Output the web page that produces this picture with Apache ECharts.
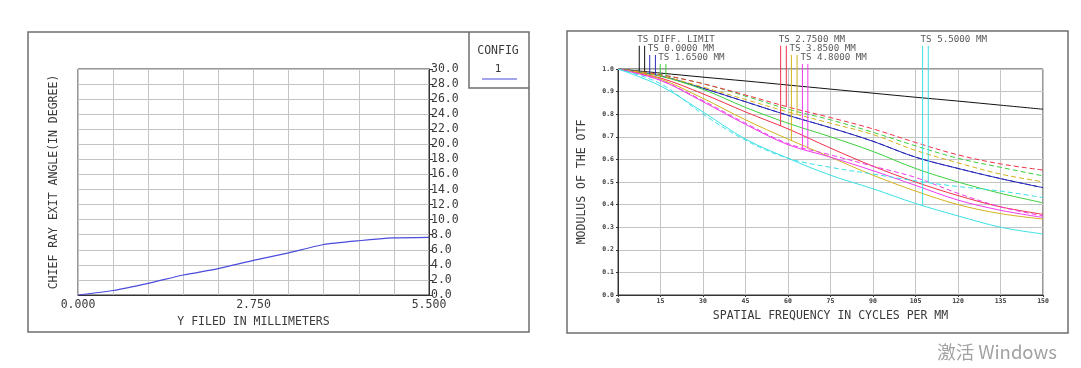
<!DOCTYPE html>
<html><head><meta charset="utf-8">
<script src="https://cdn.jsdelivr.net/npm/echarts@6/dist/echarts.min.js"></script>
<style>html,body{margin:0;padding:0;background:#fff}#c{width:1081px;height:368px}</style>
</head><body><div id="c"></div>
<script>
// ---- Left chart: chief ray exit angle ----
const fieldY = [0, 0.55, 1.1, 1.65, 2.2, 2.75, 3.3, 3.85, 4.4, 4.95, 5.5];
const exitAngle = [0, 0.6, 1.55, 2.65, 3.5, 4.6, 5.6, 6.7, 7.2, 7.57, 7.65];
const configName = '1';

// ---- Right chart: MTF ----
const freq = [0, 15, 30, 45, 60, 75, 90, 105, 120, 135, 150];
const mtfDiff    = [1.0, 0.982, 0.964, 0.947, 0.929, 0.911, 0.893, 0.875, 0.858, 0.840, 0.822];
const mtfF1T     = [1.0, 0.970, 0.915, 0.855, 0.795, 0.740, 0.680, 0.610, 0.560, 0.515, 0.475];
const mtfF1S     = [1.0, 0.970, 0.915, 0.855, 0.795, 0.740, 0.680, 0.610, 0.560, 0.515, 0.475];
const mtfF2T     = [1.0, 0.968, 0.910, 0.830, 0.760, 0.700, 0.635, 0.560, 0.500, 0.450, 0.408];
const mtfF2S     = [1.0, 0.975, 0.935, 0.880, 0.822, 0.775, 0.720, 0.660, 0.605, 0.565, 0.527];
const mtfF3T     = [1.0, 0.960, 0.890, 0.810, 0.735, 0.650, 0.570, 0.500, 0.440, 0.390, 0.357];
const mtfF3S     = [1.0, 0.975, 0.935, 0.885, 0.832, 0.785, 0.735, 0.675, 0.620, 0.580, 0.553];
const mtfF4T     = [1.0, 0.955, 0.870, 0.775, 0.690, 0.610, 0.530, 0.460, 0.400, 0.360, 0.336];
const mtfF4S     = [1.0, 0.970, 0.920, 0.865, 0.810, 0.760, 0.710, 0.640, 0.585, 0.535, 0.501];
const mtfF5T     = [1.0, 0.950, 0.855, 0.755, 0.665, 0.610, 0.550, 0.485, 0.420, 0.375, 0.343];
const mtfF5S     = [1.0, 0.950, 0.860, 0.760, 0.670, 0.620, 0.570, 0.520, 0.450, 0.390, 0.350];
const mtfF6T     = [1.0, 0.925, 0.810, 0.690, 0.605, 0.530, 0.470, 0.405, 0.350, 0.300, 0.270];
const mtfF6S     = [1.0, 0.935, 0.800, 0.685, 0.605, 0.565, 0.535, 0.505, 0.480, 0.460, 0.431];

const fieldLabels = ['TS DIFF. LIMIT', 'TS 0.0000 MM', 'TS 1.6500 MM', 'TS 2.7500 MM', 'TS 3.8500 MM', 'TS 4.8000 MM', 'TS 5.5000 MM'];
const leaderFreqT = [7.5, 11.2, 14.9, 57.4, 61.2, 65.1, 107.5];
const leaderFreqS = [9.4, 13.2, 16.9, 59.4, 63.2, 67.0, 109.5];
const leaderRow   = [0, 1, 2, 0, 1, 2, 0];

const curvesT = [mtfDiff, mtfF1T, mtfF2T, mtfF3T, mtfF4T, mtfF5T, mtfF6T];
const curvesS = [mtfDiff, mtfF1S, mtfF2S, mtfF3S, mtfF4S, mtfF5S, mtfF6S];
const colors = ['#111111', '#2a2ab8', '#3ccf3c', '#f0304a', '#d4b21c', '#ee3cee', '#3ce0e6'];
const rowTop = [1.103, 1.062, 1.022];

function interp(xs, ys, x) {
  for (let i = 1; i < xs.length; i++) {
    if (x <= xs[i]) { const t = (x - xs[i-1]) / (xs[i] - xs[i-1]); return ys[i-1] + t * (ys[i] - ys[i-1]); }
  }
  return ys[ys.length - 1];
}
const zip = (xs, ys) => xs.map((x, i) => [x, ys[i]]);

const FONT = 'DejaVu Sans Mono';
const TXT = '#3a3a3a';
const GRIDC = '#c4c4c4';

const series = [];
series.push({
  type: 'line', xAxisIndex: 0, yAxisIndex: 0, data: zip(fieldY, exitAngle),
  symbol: 'none', smooth: 0.2, lineStyle: { color: '#4b4bdc', width: 1.2 }, silent: true, z: 5
});

for (let i = 0; i < 7; i++) {
  series.push({
    type: 'line', xAxisIndex: 1, yAxisIndex: 2, data: zip(freq, curvesT[i]), symbol: 'none',
    smooth: 0.35, silent: true, lineStyle: { color: colors[i], width: 1 }, z: i === 0 ? 3 : 4
  });
  if (i > 0) {
    series.push({
      type: 'line', xAxisIndex: 1, yAxisIndex: 2, data: zip(freq, curvesS[i]), symbol: 'none',
      smooth: 0.35, silent: true, lineStyle: { color: colors[i], width: 1, type: [5, 3] }, z: 4
    });
  }
}
for (let i = 0; i < 7; i++) {
  const top = rowTop[leaderRow[i]];
  const fT = leaderFreqT[i], fS = leaderFreqS[i];
  series.push({
    type: 'line', xAxisIndex: 1, yAxisIndex: 2, clip: false, symbol: 'none', silent: true,
    data: [[fT, top], [fT, interp(freq, curvesT[i], fT)]], lineStyle: { color: colors[i], width: 1 }, z: 6
  });
  series.push({
    type: 'line', xAxisIndex: 1, yAxisIndex: 2, clip: false, symbol: 'none', silent: true,
    data: [[fS, top], [fS, interp(freq, curvesS[i], fS)]], lineStyle: { color: colors[i], width: 1 }, z: 6
  });
  series.push({
    type: 'scatter', xAxisIndex: 1, yAxisIndex: 2, clip: false, symbolSize: 0, silent: true,
    data: [[fT, top]],
    label: { show: true, formatter: fieldLabels[i], position: 'top', distance: 2, align: 'left', offset: [-2, 0],
      fontFamily: FONT, fontSize: 9.2, color: '#2e2e2e' }
  });
}

const chart = echarts.init(document.getElementById('c'), null, { renderer: 'canvas' });
chart.setOption({
  animation: false,
  backgroundColor: '#ffffff',
  grid: [
    { left: 78, top: 69, width: 351, height: 226, show: true, borderColor: '#333', borderWidth: 1, backgroundColor: 'transparent' },
    { left: 618, top: 69, width: 425, height: 226, show: true, borderColor: '#333', borderWidth: 1, backgroundColor: 'transparent' }
  ],
  xAxis: [
    { type: 'value', gridIndex: 0, min: 0, max: 5.5, interval: 0.55,
      axisLine: { show: true, onZero: false, lineStyle: { color: '#333' } }, axisTick: { show: false },
      axisLabel: { margin: 4, fontFamily: FONT, fontSize: 11.5, color: TXT, showMaxLabel: true, showMinLabel: true,
        formatter: (v, i) => (i % 5 === 0 ? v.toFixed(3) : '') },
      splitLine: { show: true, lineStyle: { color: GRIDC, width: 1 } },
      name: 'Y FILED IN MILLIMETERS', nameLocation: 'middle', nameGap: 18,
      nameTextStyle: { fontFamily: FONT, fontSize: 11.5, color: TXT } },
    { type: 'value', gridIndex: 1, min: 0, max: 150, interval: 15,
      axisLine: { show: true, onZero: false, lineStyle: { color: '#333' } },
      axisTick: { show: true, length: 2, lineStyle: { color: '#333' } },
      axisLabel: { margin: 3, fontFamily: FONT, fontSize: 6.5, fontWeight: 'bold', color: TXT },
      splitLine: { show: true, lineStyle: { color: GRIDC, width: 1 } },
      name: 'SPATIAL FREQUENCY IN CYCLES PER MM', nameLocation: 'middle', nameGap: 13,
      nameTextStyle: { fontFamily: FONT, fontSize: 11.5, color: TXT } }
  ],
  yAxis: [
    { type: 'value', gridIndex: 0, position: 'right', min: 0, max: 30, interval: 2,
      axisLine: { show: true, onZero: false, lineStyle: { color: '#333' } },
      axisTick: { show: true, length: 4, lineStyle: { color: '#333' } },
      axisLabel: { margin: 2, fontFamily: FONT, fontSize: 11.5, color: TXT, formatter: v => v.toFixed(1) },
      splitLine: { show: true, lineStyle: { color: GRIDC, width: 1 } } },
    { type: 'value', gridIndex: 0, position: 'left', min: 0, max: 30, interval: 2,
      axisLine: { show: false }, axisTick: { show: false }, axisLabel: { show: false }, splitLine: { show: false },
      name: 'CHIEF RAY EXIT ANGLE(IN DEGREE)', nameLocation: 'middle', nameGap: 18, nameRotate: 90,
      nameTextStyle: { fontFamily: FONT, fontSize: 11.5, color: TXT } },
    { type: 'value', gridIndex: 1, min: 0, max: 1, interval: 0.1,
      axisLine: { show: true, onZero: false, lineStyle: { color: '#333' } },
      axisTick: { show: true, length: 2, lineStyle: { color: '#333' } },
      axisLabel: { margin: 4, fontFamily: FONT, fontSize: 6.5, fontWeight: 'bold', color: TXT, formatter: v => v.toFixed(1) },
      splitLine: { show: true, lineStyle: { color: GRIDC, width: 1 } },
      name: 'MODULUS OF THE OTF', nameLocation: 'middle', nameGap: 30, nameRotate: 90,
      nameTextStyle: { fontFamily: FONT, fontSize: 11.5, color: TXT } }
  ],
  graphic: [
    { type: 'rect', shape: { x: 28, y: 32, width: 501, height: 300 }, style: { fill: 'none', stroke: '#6e6e6e', lineWidth: 1.5 }, silent: true },
    { type: 'rect', shape: { x: 567, y: 31, width: 501, height: 302 }, style: { fill: 'none', stroke: '#6e6e6e', lineWidth: 1.5 }, silent: true },
    { type: 'polyline', shape: { points: [[469, 32], [469, 88], [529, 88]] }, style: { fill: 'none', stroke: '#6e6e6e', lineWidth: 1.5 }, silent: true },
    { type: 'text', x: 498, y: 51, style: { text: 'CONFIG', font: '11.5px "DejaVu Sans Mono"', fill: TXT, align: 'center', verticalAlign: 'middle' }, silent: true },
    { type: 'text', x: 498, y: 69, style: { text: configName, font: '11px "DejaVu Sans Mono"', fill: TXT, align: 'center', verticalAlign: 'middle' }, silent: true },
    { type: 'line', shape: { x1: 482, y1: 79, x2: 517, y2: 79 }, style: { stroke: '#4b4bdc', lineWidth: 1.2 }, silent: true },
    { type: 'text', x: 1057, y: 352, style: { text: '激活 Windows', font: '18.5px "Noto Sans CJK SC"', fill: '#a2a2a2', align: 'right', verticalAlign: 'middle' }, silent: true }
  ],
  series: series
});
</script>
</body></html>
